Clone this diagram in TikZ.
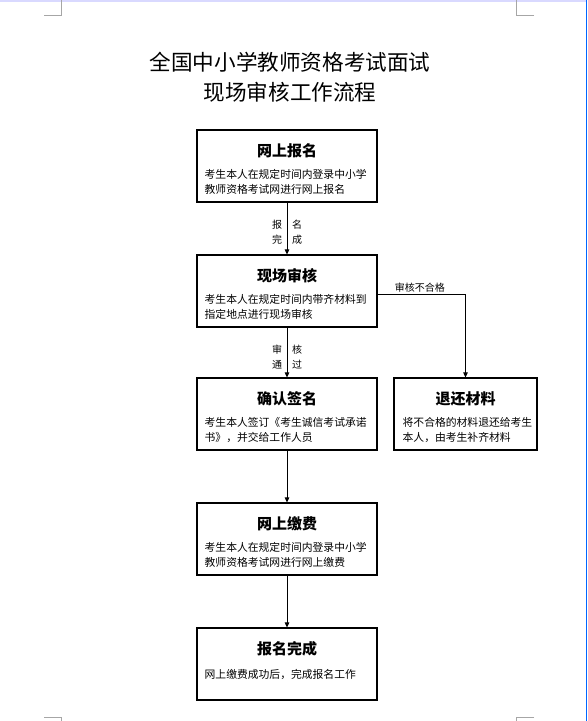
\documentclass[tikz,border=0pt]{standalone}
\usepackage{fontspec}
\setmainfont{Noto Sans CJK SC}
\usetikzlibrary{arrows.meta,positioning,calc}
\tikzset{
  kuang/.style={draw,line width=1.1pt,minimum width=180pt,minimum height=72pt,inner sep=0pt},
  jiantou/.style={line width=0.8pt,-{Triangle[length=5pt,width=4.5pt]}},
  biaoti/.style={font=\fontsize{15}{18}\selectfont\bfseries,inner sep=0pt},
  zhengwen/.style={font=\fontsize{10.8}{15}\selectfont,align=left,inner sep=0pt,
    anchor=north west,execute at begin node=\rule{0pt}{11pt}},
  zhu/.style={font=\fontsize{10}{15}\selectfont,align=center,inner sep=0pt},
  jiao/.style={gray!70,line width=0.8pt},
}

\begin{document}
\begin{tikzpicture}[x=1pt,y=-1pt]
  \fill[white] (0,0) rectangle (587,721);
  \useasboundingbox (0,0) rectangle (587,721);
  % 页面边角
  \fill[blue!15] (0,0) rectangle (587,2);
  \draw[blue!60!cyan,line width=1pt] (586.5,0) -- (586.5,721);
  \draw[jiao] (44,15) -- (61,15) -- (61,0);
  \draw[jiao] (534,15) -- (516,15) -- (516,0);
  \draw[jiao] (44,717) -- (61,717) -- (61,721);
  \draw[jiao] (534,717) -- (516,717) -- (516,721);
  % 标题
  \node[font=\fontsize{21.6}{30}\selectfont,align=center] (bt) at (290,77)
    {全国中小学教师资格考试面试\\现场审核工作流程};
  % 左列各框
  \foreach \mc/\y/\bt/\zw in {
      bm/166/网上报名/{考生本人在规定时间内登录中小学\\教师资格考试网进行网上报名},
      xc/291/现场审核/{考生本人在规定时间内带齐材料到\\指定地点进行现场审核},
      qr/414/确认签名/{考生本人签订《考生诚信考试承诺\\书》，并交给工作人员},
      jf/539/网上缴费/{考生本人在规定时间内登录中小学\\教师资格考试网进行网上缴费},
      wc/664/报名完成/{网上缴费成功后，完成报名工作}} {
    \node[kuang] (\mc) at (287,\y) {};
    \node[biaoti] (\mc-bt) at ([yshift=-21pt]\mc.north) {\bt};
    \node[zhengwen] (\mc-zw) at ([xshift=8pt,yshift=-40pt]\mc.north west) {\zw};
  }
  % 右侧框
  \node[kuang,minimum width=143pt] (tc) at (465.5,414) {};
  \node[biaoti] (tc-bt) at ([yshift=-21pt]tc.north) {退还材料};
  \node[zhengwen] (tc-zw) at ([xshift=9pt,yshift=-40pt]tc.north west)
    {将不合格的材料退还给考生\\本人，由考生补齐材料};
  % 连线
  \draw[jiantou] (bm) -- (xc)
    node[zhu,pos=0.57] {报\hspace{10pt}名\\完\hspace{10pt}成};
  \draw[jiantou] (xc) -- (qr)
    node[zhu,pos=0.6] {审\hspace{10pt}核\\通\hspace{10pt}过};
  \draw[jiantou] ([yshift=-3pt]xc.east) -| (tc)
    node[zhu,pos=0.24,above=1.5pt] {审核不合格};
  \draw[jiantou] (qr) -- (jf);
  \draw[jiantou] (jf) -- (wc);
\end{tikzpicture}
\end{document}
